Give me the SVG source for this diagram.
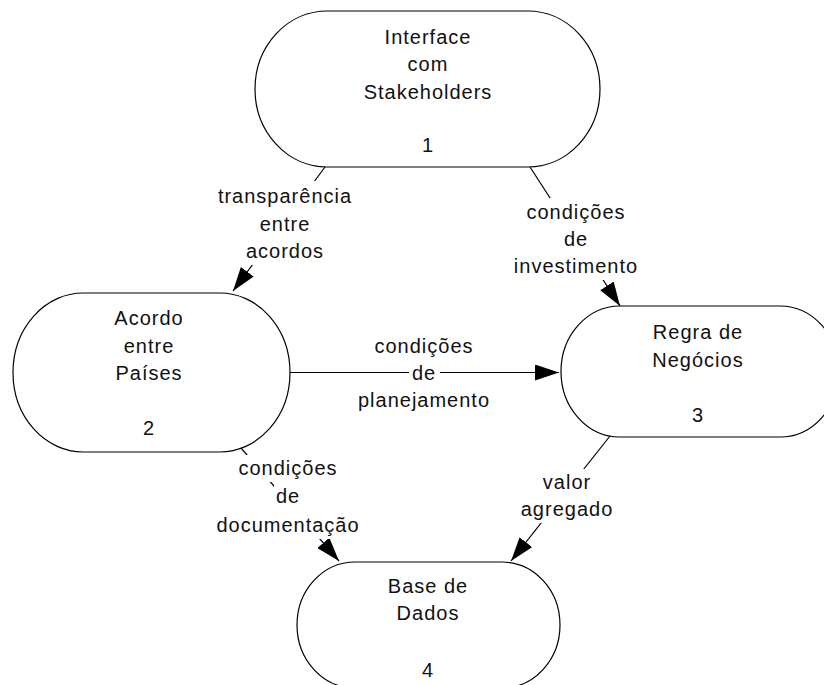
<svg xmlns="http://www.w3.org/2000/svg" width="824" height="685" viewBox="0 0 824 685">
<style>
.node{fill:#fff;stroke:#000;stroke-width:1.2}
.t{font-family:"Liberation Sans",Arial,sans-serif;font-size:20px;letter-spacing:1px;fill:#111;text-anchor:middle}
.edge{stroke:#000;stroke-width:1.2;fill:none;marker-end:url(#arr)}
.bg{fill:#fff}
</style>
<defs>
<marker id="arr" markerUnits="userSpaceOnUse" markerWidth="24" markerHeight="16" viewBox="0 0 24 16" refX="24" refY="8" orient="auto">
<path d="M0,0 L24,8 L0,16 Z" fill="#000"/>
</marker>
</defs>
<rect width="824" height="685" fill="#fff"/>
<g id="node1">
<rect class="node" x="255" y="11" width="345" height="156" rx="72" ry="78"/>
<text class="t" x="428" y="43.5">Interface</text>
<text class="t" x="428" y="71">com</text>
<text class="t" x="428" y="98.5">Stakeholders</text>
<text class="t" x="428" y="152">1</text>
</g>
<g id="node2">
<rect class="node" x="13" y="293" width="277" height="159" rx="70" ry="79.5"/>
<text class="t" x="149" y="325">Acordo</text>
<text class="t" x="149" y="353">entre</text>
<text class="t" x="149" y="380">Países</text>
<text class="t" x="149" y="435">2</text>
</g>
<g id="node3">
<rect class="node" x="561" y="306" width="278" height="131" rx="59" ry="65.5"/>
<text class="t" x="698" y="338.5">Regra de</text>
<text class="t" x="698" y="366.5">Negócios</text>
<text class="t" x="698" y="422">3</text>
</g>
<g id="node4">
<rect class="node" x="297" y="562" width="263" height="126" rx="58" ry="63"/>
<text class="t" x="428" y="593">Base de</text>
<text class="t" x="428" y="620">Dados</text>
<text class="t" x="428" y="677">4</text>
</g>
<g id="connectors">
<line class="edge" x1="325" y1="167" x2="233" y2="291"/>
<line class="edge" x1="530" y1="167" x2="620" y2="306"/>
<line class="edge" x1="290" y1="372.5" x2="559" y2="372.5"/>
<line class="edge" x1="241" y1="448" x2="339" y2="561"/>
<line class="edge" x1="610" y1="436" x2="511" y2="561"/>
<g id="label1">
<rect class="bg" x="215" y="181" width="138" height="29"/>
<rect class="bg" x="257" y="209" width="55" height="29"/>
<rect class="bg" x="244" y="236" width="82" height="29"/>
<text class="t" x="285" y="203">transparência</text>
<text class="t" x="285" y="231">entre</text>
<text class="t" x="285" y="258">acordos</text>
</g>
<g id="label2">
<rect class="bg" x="523" y="198" width="105" height="28"/>
<rect class="bg" x="559" y="225" width="31" height="28"/>
<rect class="bg" x="513" y="252" width="126" height="28"/>
<text class="t" x="576" y="219">condições</text>
<text class="t" x="576" y="246">de</text>
<text class="t" x="576" y="273">investimento</text>
</g>
<g id="label3">
<rect class="bg" x="371" y="332" width="105" height="28"/>
<rect class="bg" x="409" y="360" width="31" height="27"/>
<rect class="bg" x="362" y="387" width="124" height="27"/>
<text class="t" x="424" y="353">condições</text>
<text class="t" x="424" y="380">de</text>
<text class="t" x="424" y="407">planejamento</text>
</g>
<g id="label4">
<rect class="bg" x="236" y="455" width="103" height="27"/>
<rect class="bg" x="274" y="484" width="26" height="26"/>
<rect class="bg" x="213" y="510" width="150" height="29"/>
<text class="t" x="288" y="475">condições</text>
<text class="t" x="288" y="503">de</text>
<text class="t" x="288" y="532">documentação</text>
</g>
<g id="label5">
<rect class="bg" x="540" y="469" width="54" height="27"/>
<rect class="bg" x="519" y="495" width="94" height="28"/>
<text class="t" x="567" y="489">valor</text>
<text class="t" x="567" y="516">agregado</text>
</g>
</g>
</svg>
